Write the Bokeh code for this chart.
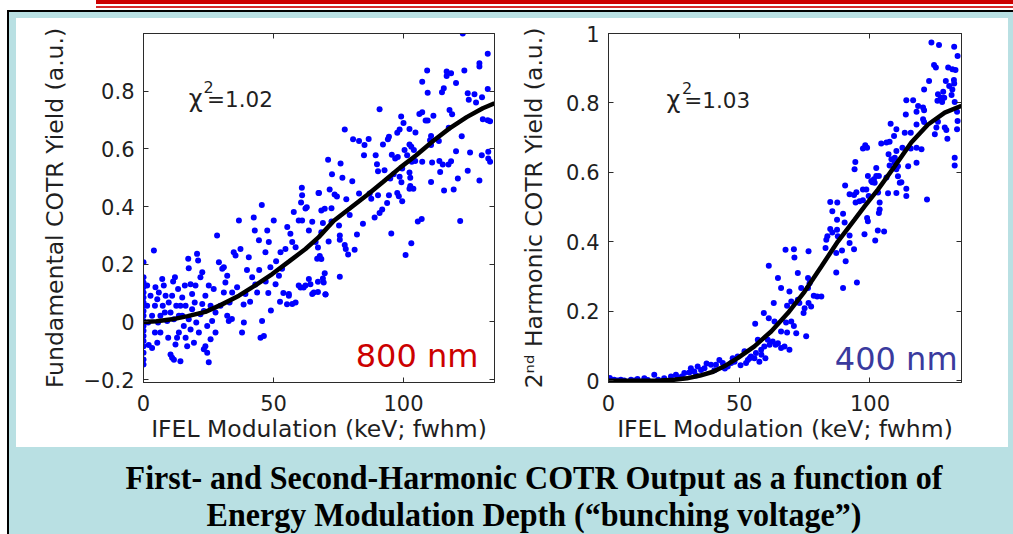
import math
from bokeh.plotting import figure
from bokeh.models import Range1d, FixedTicker, LinearAxis, Label, Div, ColumnDataSource
from bokeh.layouts import row, column
from bokeh.embed import file_html
from bokeh.resources import INLINE

# ---------------- data ----------------
X_TICKS = [0, 50, 100]
X_TICK_LABELS = ["0", "50", "100"]
LEFT_Y_TICKS = [-0.2, 0, 0.2, 0.4, 0.6, 0.8]
LEFT_Y_TICK_LABELS = ["\u22120.2", "0", "0.2", "0.4", "0.6", "0.8"]
RIGHT_Y_TICKS = [0, 0.2, 0.4, 0.6, 0.8, 1.0]
RIGHT_Y_TICK_LABELS = ["0", "0.2", "0.4", "0.6", "0.8", "1"]

X_TITLE = "IFEL Modulation (keV; fwhm)"
LEFT_Y_TITLE = "Fundamental COTR Yield (a.u.)"
RIGHT_Y_TITLE = "2\u207f\u1d48 Harmonic COTR Yield (a.u.)"
LEFT_CHI = ["\u03c7", "2", "=1.02"]
RIGHT_CHI = ["\u03c7", "2", "=1.03"]
LEFT_TAG = "800 nm"
RIGHT_TAG = "400 nm"
CAPTION_1 = "First- and Second-Harmonic COTR Output as a function of"
CAPTION_2 = "Energy Modulation Depth (\u201cbunching voltage\u201d)"

# Fundamental (800 nm) measured points (x keV, y a.u.)
FUND_POINTS = [
    (0, 0.207), (0, 0.155), (0, 0.137), (0, 0.12), (0, 0.102), (0, 0.085), (0, 0.067),
    (0, 0.056), (0, 0.038), (0, 0.021), (0, 0.003), (0, -0.014), (0, -0.031), (0, -0.049),
    (0, -0.066), (0, -0.084), (0, -0.107), (0, -0.13), (0, -0.148),
    (1.4, 0.126), (1.4, 0.056), (1.8, -0.002), (2, -0.08), (4, 0.248), (4.6, 0.12),
    (4.4, 0.056), (4.4, -0.037), (3.3, -0.09), (5.3, -0.072), (2.7, 0.091), (3.3, 0.021),
    (5.3, 0.079), (5.6, -0.002), (6.5, -0.037), (7.2, 0.149), (8.2, 0.033), (9.7, 0.067),
    (10.4, 0.033), (11, 0.091), (11.7, 0.009), (12.6, 0.056), (13.6, 0.021), (14.9, 0.085),
    (15.9, 0.126), (16.2, 0.056), (16.8, -0.084), (17.4, 0.009), (18.1, -0.026), (18.7, 0.044),
    (19.4, -0.072), (20, 0.126), (20.3, -0.002), (21.3, -0.037), (21.9, 0.027), (22.6, 0.172),
    (23.2, -0.095), (23.8, 0.091), (24.5, -0.014), (25.1, 0.126), (25.8, 0.056), (27, 0.114),
    (27.7, -0.037), (29.6, 0.056), (30.9, 0.102), (32.2, 0.16), (33.1, 0.067),
    (5.9, 0.102), (6.5, 0.021), (7.4, 0.056), (7.8, 0.126), (8.5, 0.091), (9.1, 0.003),
    (9.5, -0.055), (10.4, -0.113), (11, -0.124), (11.7, -0.131), (12.3, -0.078), (12.9, -0.055),
    (13.6, -0.037), (14.2, -0.136), (11.4, 0.14), (12.1, 0.155), (13.3, 0.114), (14.2, 0.056),
    (14.9, 0.021), (15.5, -0.014), (16.2, -0.055), (17.2, 0.219), (17.4, 0.186), (18.1, 0.131),
    (18.7, 0.097), (19.7, 0.067), (20.6, 0.236), (21, 0.213), (21.9, 0.155), (22.6, 0.062),
    (23.2, 0.038), (23.8, -0.084), (24.5, -0.107), (25.1, -0.14), (25.8, -0.06), (26.4, 0.003),
    (27.7, 0.033), (28.3, 0.3), (29, 0.207), (30.3, 0.184), (30.9, 0.19), (31.5, 0.137),
    (32.2, 0.021), (32.8, 0.003), (34.1, 0.102), (34.7, 0.242), (35.4, 0.23), (36.7, 0.352),
    (37.3, 0.253), (37.9, -0.037), (38.6, -0.002), (39.2, 0.097), (40.5, 0.224), (41.8, 0.155),
    (42.4, 0.362), (42.8, 0.317), (43.7, 0.102), (44.4, 0.283), (45, -0.055), (45.6, 0.003),
    (46.3, -0.049), (46.9, 0.242), (47.6, 0.317), (48.2, 0.277), (48.8, 0.19), (50.1, 0.352),
    (50.8, 0.131), (52.1, 0.16), (52.7, 0.242), (53.3, 0.184), (54.6, 0.253), (55.3, 0.329),
    (55.9, 0.091), (56.5, 0.306), (57.2, 0.277), (57.8, 0.381), (58.5, 0.259), (59.7, 0.352),
    (61, 0.352), (62.3, 0.393), (63.6, 0.317), (64.9, 0.347), (66.2, 0.277), (66.8, 0.219),
    (64.9, 0.097), (62.3, 0.126), (63.6, 0.149), (59.7, 0.126), (58.5, 0.067), (57.2, 0.062),
    (55.9, 0.097), (55.2, 0.061), (60.4, 0.119), (61.6, 0.119), (64.2, 0.131), (70, 0.096),
    (65.5, 0.102), (36, 0.12), (38.5, 0.06), (41, 0.07), (43, 0.13), (44.5, 0.18), (47, 0.14),
    (48, 0.1), (49, 0.04), (51, 0.21), (52.5, 0.07), (53.8, 0.1), (34, 0.01), (39.8, 0.18),
    (45.5, 0.405), (60.9, 0.465), (61, 0.439), (60.6, 0.414), (62.8, 0.398), (67.3, 0.447),
    (122.8, 1.0), (132.4, 0.93), (129.2, 0.897), (129.2, 0.886), (109.1, 0.872), (116.6, 0.868),
    (118.3, 0.862), (116.6, 0.853), (123.4, 0.872), (107.2, 0.833), (120.2, 0.828), (115.5, 0.81),
    (114.8, 0.796), (109.3, 0.795), (132.4, 0.808), (124.7, 0.793), (127.3, 0.789), (125.1, 0.77),
    (130.2, 0.779), (127.9, 0.761), (90.8, 0.737), (106.1, 0.721), (107.2, 0.727), (108.5, 0.698),
    (109.3, 0.698), (111.5, 0.715), (99.1, 0.712), (100, 0.69), (117.7, 0.735), (118.7, 0.72),
    (130.5, 0.703), (132.4, 0.699), (133.3, 0.696), (77.4, 0.667), (98.5, 0.667), (102.3, 0.669),
    (104.6, 0.657), (94, 0.633), (94.4, 0.642), (92.1, 0.615), (80.6, 0.633), (82.9, 0.627),
    (85, 0.613), (86.6, 0.634), (97.6, 0.656), (117.4, 0.673), (122.4, 0.644), (110.6, 0.645),
    (110.2, 0.63), (113.6, 0.627), (110.6, 0.613), (102.3, 0.615), (103, 0.607), (100.4, 0.596),
    (84.8, 0.578), (89.3, 0.578), (95.5, 0.58), (97.8, 0.572), (101.4, 0.578), (104, 0.596),
    (120.2, 0.592), (125.6, 0.587), (130.1, 0.578), (132.6, 0.59), (132.6, 0.567), (133.3, 0.555),
    (71, 0.562), (75.8, 0.549), (72.5, 0.512), (76.5, 0.5), (89.8, 0.547), (90.2, 0.522),
    (92.7, 0.526), (96.8, 0.567), (99.5, 0.532), (96.2, 0.512), (94.9, 0.497), (98.5, 0.503),
    (103.2, 0.555), (104.5, 0.558), (107.2, 0.555), (111, 0.553), (113.8, 0.558), (115.1, 0.546),
    (117.3, 0.546), (118.3, 0.557), (102.3, 0.518), (102.6, 0.5), (99.2, 0.484), (102.6, 0.471),
    (103.8, 0.462), (110.6, 0.485), (114.1, 0.52), (115.6, 0.456), (119.3, 0.459), (124.7, 0.524),
    (129.2, 0.49), (120.9, 0.497), (67.5, 0.447), (71.6, 0.459), (73.5, 0.442), (74.4, 0.435),
    (78, 0.425), (80.3, 0.488), (82.9, 0.445), (87, 0.445), (87.6, 0.427), (90.2, 0.439),
    (93.7, 0.412), (94.4, 0.439), (97.6, 0.447), (99.5, 0.418), (98.2, 0.436), (102.3, 0.462),
    (68.4, 0.386), (69.7, 0.392), (72.3, 0.394), (69, 0.343), (72.3, 0.348), (75.2, 0.334),
    (68.4, 0.311), (71.2, 0.279), (75.5, 0.3), (75.5, 0.285), (82.1, 0.303), (79.3, 0.371),
    (84.4, 0.34), (88.9, 0.362), (90.8, 0.378), (91.8, 0.39), (105.5, 0.348), (107, 0.357),
    (121.8, 0.35), (95.3, 0.307), (103, 0.273), (100.8, 0.232), (77.4, 0.267), (77.8, 0.253),
    (78.7, 0.234), (81.2, 0.25), (67.1, 0.258), (67.8, 0.229), (68.4, 0.218), (69.7, 0.169),
    (69, 0.151), (69.3, 0.137), (67.1, 0.139), (75.5, 0.157), (70, 0.095), (67.1, 0.104),
]

# Fundamental fit curve
FUND_FIT_X = [0, 5, 11, 17, 23.8, 30, 36.7, 43, 49.5, 56, 62.3, 67.4, 73.2, 79.3, 86, 92.1,
              98.7, 104.9, 111.5, 117.7, 124.3, 130.5, 135]
FUND_FIT_Y = [0, 0.002, 0.009, 0.02, 0.035, 0.06, 0.091, 0.127, 0.166, 0.21, 0.253, 0.294,
              0.351, 0.393, 0.44, 0.485, 0.535, 0.578, 0.628, 0.671, 0.71, 0.741, 0.758]

# Second harmonic (400 nm) measured points
HARM_POINTS = [
    (123.5, 0.974), (126.4, 0.967), (132.2, 0.962), (133.5, 0.935), (124.5, 0.909), (125.2, 0.902),
    (129.9, 0.902), (131.5, 0.897), (132.7, 0.895), (122.6, 0.863), (129, 0.863), (132.1, 0.866),
    (132.2, 0.856), (130.3, 0.849), (131.5, 0.839), (120.7, 0.839), (128, 0.832), (126, 0.825),
    (131.2, 0.823), (127.1, 0.815), (128.4, 0.815), (125.8, 0.806), (127.6, 0.803), (132.4, 0.803),
    (113.9, 0.808), (116.5, 0.808), (118.4, 0.791), (120.3, 0.787), (120.7, 0.779), (117.8, 0.775),
    (133.3, 0.775), (113.7, 0.767), (120.3, 0.753), (120.7, 0.745), (126, 0.746), (125.4, 0.729),
    (124.8, 0.71), (129.2, 0.722), (129.6, 0.697), (128.6, 0.729), (107.9, 0.74), (110.1, 0.724),
    (113.3, 0.714), (115.6, 0.714), (117.8, 0.738), (104.3, 0.683), (106.3, 0.686), (107.5, 0.688),
    (109.2, 0.705), (110.1, 0.662), (112.4, 0.671), (115.6, 0.669), (117.8, 0.671), (119.7, 0.667),
    (107.1, 0.652), (108.2, 0.638), (109.5, 0.642), (98.2, 0.678), (98.9, 0.671), (97.3, 0.669),
    (94.4, 0.63), (94.1, 0.609), (102.4, 0.613), (103.4, 0.59), (107.5, 0.62), (109.4, 0.628),
    (110.7, 0.618), (114.6, 0.618), (117.8, 0.628), (99.2, 0.59), (100.5, 0.575), (101.8, 0.57),
    (106.3, 0.585), (110.1, 0.609), (111.4, 0.57), (112, 0.572), (110.7, 0.589), (132.4, 0.642),
    (132.4, 0.62), (90.5, 0.562), (92.2, 0.537), (93.9, 0.535), (94.8, 0.543), (96, 0.517),
    (97.3, 0.551), (98.6, 0.551), (99.5, 0.532), (100.9, 0.572), (101.5, 0.58), (102.4, 0.59),
    (103.1, 0.542), (103.7, 0.513), (106.9, 0.54), (110.1, 0.541), (113.9, 0.553), (113.9, 0.532),
    (121.8, 0.522), (84.8, 0.515), (87.5, 0.513), (94.5, 0.513), (97.3, 0.52), (133.3, 0.724),
    (133.5, 0.748),
    (85.6, 0.488), (89.7, 0.481), (87.4, 0.464), (90.3, 0.456), (84.8, 0.437), (85.6, 0.427),
    (87.4, 0.435), (87.7, 0.416), (98.9, 0.469), (99.2, 0.459), (97.9, 0.422), (102, 0.404),
    (103, 0.433), (103.4, 0.483), (105.4, 0.43), (103.7, 0.493), (92.2, 0.418), (92.2, 0.397),
    (93.9, 0.379), (89.3, 0.375), (87.1, 0.368), (83, 0.382), (83.3, 0.406), (83.7, 0.416),
    (90.7, 0.344), (95, 0.283), (89.7, 0.267), (87.1, 0.312), (67.7, 0.377), (70.9, 0.379),
    (71.1, 0.355), (61.3, 0.331), (76.5, 0.373), (72.4, 0.31), (76.3, 0.296), (76.9, 0.281),
    (73.7, 0.267), (72.4, 0.233), (76.3, 0.267), (78.5, 0.245), (79.8, 0.243), (81.4, 0.243),
    (64.8, 0.296), (66, 0.267), (69.2, 0.257), (69.9, 0.228), (68.3, 0.216), (73, 0.224),
    (75, 0.209), (74.6, 0.195), (76.5, 0.224), (77.5, 0.214), (63.2, 0.224), (59.4, 0.195),
    (61.3, 0.18), (63.5, 0.171), (67.9, 0.168), (69.9, 0.171), (70.9, 0.158), (71.8, 0.137),
    (75.6, 0.128), (68.3, 0.139), (66, 0.142), (56.1, 0.164), (57.1, 0.118), (60.9, 0.118),
    (62.8, 0.113), (64.8, 0.108), (67.3, 0.099), (69.2, 0.089), (66, 0.094), (63.9, 0.104),
    (61.6, 0.104), (59.6, 0.099), (58.4, 0.089), (56.4, 0.08), (55.8, 0.065), (54.5, 0.07),
    (53.3, 0.06), (52.6, 0.051), (57.7, 0.055), (49.4, 0.07), (48.2, 0.055), (46.9, 0.051),
    (45.6, 0.041), (43.7, 0.051), (42.4, 0.06), (41.1, 0.046), (39.2, 0.046), (36.7, 0.036),
    (35.4, 0.031), (34.1, 0.041), (32.8, 0.027), (31.5, 0.036), (30.9, 0.024), (29, 0.022),
    (28, 0.012), (25.8, 0.017), (23.9, 0.012), (21.3, 0.007), (17.5, 0.017), (13.7, 0.007),
    (11.1, 0.005), (8.6, 0.003), (6, 0.001), (3.5, 0.001), (0.9, 0.0), (0.2, 0.0), (2.2, 0.003),
    (4.7, 0.003), (0, 0.005), (0.5, 0.008), (1, 0.003), (10, 0.001), (15, 0.002), (19, 0.003),
    (26.5, 0.008), (33.5, 0.015), (37.5, 0.05), (40.5, 0.03), (44.5, 0.035), (47.5, 0.065),
    (50.5, 0.045), (52, 0.085), (54, 0.065), (58.5, 0.075), (60, 0.065),
]

HARM_FIT_X = [0, 10, 20, 25, 30, 35, 40, 45, 49.4, 55.8, 62.2, 68.6, 75, 81.4, 87.7, 94.1,
              98, 103.1, 109.5, 115.8, 122.2, 128.6, 135]
HARM_FIT_Y = [0, 0, 0.001, 0.003, 0.007, 0.015, 0.026, 0.045, 0.065, 0.099, 0.142, 0.195,
              0.257, 0.329, 0.401, 0.464, 0.503, 0.551, 0.618, 0.686, 0.738, 0.772, 0.792]

X_RANGE = (0, 135)
LEFT_Y_RANGE = (-0.21, 1.0)
RIGHT_Y_RANGE = (-0.005, 1.0)

# ---------------- styling ----------------
CYAN = "#b9e0e3"
AX = "#2b2b2b"
TXT = "#1f1f1f"
FONT = "DejaVu Sans"


def make_fig(width, yr, yticks, ylabels, borders, ytitle, ystandoff):
    l, r, t, b = borders
    p = figure(width=width, height=429, x_range=Range1d(*X_RANGE), y_range=Range1d(*yr),
               output_backend="svg", toolbar_location=None, tools="",
               min_border_left=l, min_border_right=r, min_border_top=t, min_border_bottom=b,
               background_fill_color="white", border_fill_color="white",
               outline_line_color=AX, outline_line_width=1)
    p.title.visible = False
    p.xgrid.visible = False
    p.ygrid.visible = False
    for ax, ticks, labels in ((p.xaxis[0], X_TICKS, X_TICK_LABELS), (p.yaxis[0], yticks, ylabels)):
        ax.ticker = FixedTicker(ticks=ticks)
        ax.major_label_overrides = dict(zip(ticks, labels))
        ax.major_tick_in = 5
        ax.major_tick_out = 0
        ax.minor_tick_in = 0
        ax.minor_tick_out = 0
        ax.axis_line_color = AX
        ax.major_tick_line_color = AX
        ax.major_label_text_font = FONT
        ax.major_label_text_font_size = "21px"
        ax.major_label_text_color = TXT
        ax.axis_label_text_font = FONT
        ax.axis_label_text_font_size = "23.5px"
        ax.axis_label_text_font_style = "normal"
        ax.axis_label_text_color = TXT
    p.xaxis.major_label_standoff = 12
    p.yaxis.major_label_standoff = 9
    p.xaxis.axis_label = X_TITLE
    p.xaxis.axis_label_standoff = 1
    p.yaxis.axis_label = ytitle
    p.yaxis.axis_label_standoff = ystandoff
    for side, ticks in (("above", X_TICKS), ("right", yticks)):
        ax = LinearAxis(ticker=FixedTicker(ticks=ticks), major_tick_in=5, major_tick_out=0,
                        minor_tick_in=0, minor_tick_out=0, axis_line_color=AX,
                        major_tick_line_color=AX, major_label_text_font_size="0px",
                        major_label_text_color=None, major_label_standoff=0)
        p.add_layout(ax, side)
    return p


def lab(p, x, y, text, size, color=TXT, align="left"):
    p.add_layout(Label(x=x, y=y, text=text, text_font=FONT, text_font_size=size,
                       text_color=color, text_align=align, text_baseline="middle"))


# ---------------- left plot ----------------
p1 = make_fig(492, LEFT_Y_RANGE, LEFT_Y_TICKS, LEFT_Y_TICK_LABELS, (127, 14, 15, 65),
              LEFT_Y_TITLE, 12)
src1 = ColumnDataSource(dict(x=[q[0] for q in FUND_POINTS], y=[q[1] for q in FUND_POINTS]))
p1.scatter("x", "y", source=src1, size=6, marker="circle", fill_color="#0000ff", line_color=None)
p1.line(FUND_FIT_X, FUND_FIT_Y, line_color="black", line_width=4.5)
lab(p1, 22.75, 0.772, LEFT_CHI[0], "24px", align="right")
lab(p1, 23.1, 0.814, LEFT_CHI[1], "16px")
lab(p1, 24.4, 0.772, LEFT_CHI[2], "21.5px")
lab(p1, 128.8, -0.118, LEFT_TAG, "32px", color="#cc0000", align="right")

# ---------------- right plot ----------------
p2 = make_fig(500, RIGHT_Y_RANGE, RIGHT_Y_TICKS, RIGHT_Y_TICK_LABELS, (100, 47, 15, 65),
              RIGHT_Y_TITLE, 15)
src2 = ColumnDataSource(dict(x=[q[0] for q in HARM_POINTS], y=[q[1] for q in HARM_POINTS]))
p2.scatter("x", "y", source=src2, size=6, marker="circle", fill_color="#0000ff", line_color=None)
p2.line(HARM_FIT_X, HARM_FIT_Y, line_color="black", line_width=4.5)
lab(p2, 27.5, 0.808, RIGHT_CHI[0], "24px", align="right")
lab(p2, 28.1, 0.842, RIGHT_CHI[1], "16px")
lab(p2, 29.0, 0.808, RIGHT_CHI[2], "21.5px")
lab(p2, 133.5, 0.064, RIGHT_TAG, "32px", color="#3a3a9e", align="right")

# ---------------- slide decoration ----------------
header = Div(width=1013, height=18, margin=0, text=(
    '<div style="position:relative;width:1013px;height:18px;background:#fff;overflow:hidden">'
    '<div style="position:absolute;left:96px;top:0;width:917px;height:4px;background:#cc0000"></div>'
    '<div style="position:absolute;left:96px;top:5.5px;width:917px;height:2px;background:#d42a2a"></div>'
    '<div style="position:absolute;left:7px;top:10px;width:1006px;height:2px;background:#000"></div>'
    '<div style="position:absolute;left:7px;top:10px;width:2px;height:8px;background:#000"></div>'
    f'<div style="position:absolute;left:9px;top:12px;width:1004px;height:6px;background:{CYAN}"></div>'
    '</div>'))

left_strip = Div(width=16, height=429, margin=0, text=(
    '<div style="position:relative;width:16px;height:429px;background:#fff">'
    '<div style="position:absolute;left:7px;top:0;width:2px;height:429px;background:#000"></div>'
    f'<div style="position:absolute;left:9px;top:0;width:7px;height:429px;background:{CYAN}"></div>'
    '</div>'))

right_strip = Div(width=5, height=429, margin=0, text=(
    f'<div style="width:5px;height:429px;background:{CYAN}"></div>'))

CAP_STYLE = ("position:absolute;left:55px;width:958px;text-align:center;"
             "font-family:'Liberation Serif','Times New Roman',serif;font-weight:bold;"
             "font-size:34px;line-height:37px;color:#000;transform:scaleX(0.942);"
             "transform-origin:479px 0;white-space:nowrap")

caption = Div(width=1013, height=87, margin=0, text=(
    f'<div style="position:relative;width:1013px;height:87px;background:{CYAN};overflow:hidden">'
    '<div style="position:absolute;left:0;top:0;width:7px;height:87px;background:#fff"></div>'
    '<div style="position:absolute;left:7px;top:0;width:2px;height:87px;background:#000"></div>'
    f'<div style="{CAP_STYLE};top:12px">{CAPTION_1}</div>'
    f'<div style="{CAP_STYLE};top:49px">{CAPTION_2}</div>'
    '</div>'))

layout = column(header, row(left_strip, p1, p2, right_strip, spacing=0), caption, spacing=0)

open("out.html", "w", encoding="utf-8").write(file_html(layout, INLINE, title="COTR"))
